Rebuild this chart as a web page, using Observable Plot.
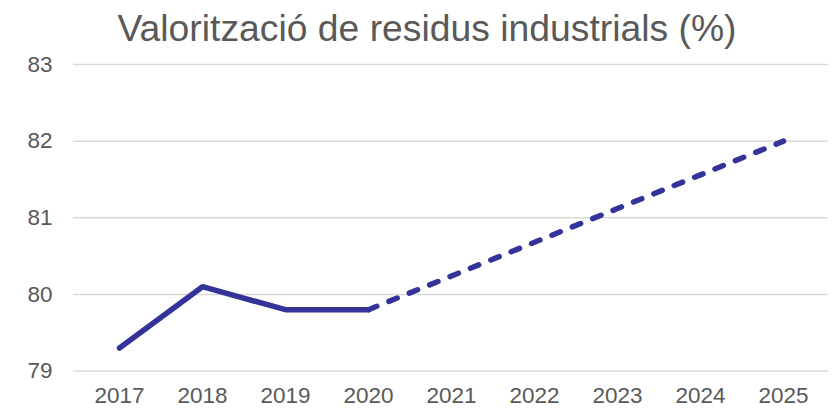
<!DOCTYPE html>
<html>
<head>
<meta charset="utf-8">
<script src="https://cdn.jsdelivr.net/npm/d3@7"></script>
<script src="https://cdn.jsdelivr.net/npm/@observablehq/plot@0.6"></script>
<style>
  html, body { margin: 0; padding: 0; background: #fff; }
  #title { height: 42px; padding-top: 10px; margin: 0; font-family: "Liberation Sans", Arial, sans-serif; font-size: 37.3px; font-weight: normal; color: #595959; text-align: center; line-height: 1; padding-left: 16px; white-space: nowrap; }
  svg { display: block; }
</style>
</head>
<body>
<div id="title">Valorització de residus industrials (%)</div>
<div id="chart"></div>
<script>
const years = ["2017", "2018", "2019", "2020", "2021", "2022", "2023", "2024", "2025"];
const actualYears = ["2017", "2018", "2019", "2020"];
const actualValues = [79.3, 80.1, 79.8, 79.8];
const projYears = ["2020", "2021", "2022", "2023", "2024", "2025"];
const projValues = [79.8, 80.24, 80.68, 81.12, 81.56, 82.0];
const yTicks = [79, 80, 81, 82, 83];

const actual = actualYears.map((y, i) => ({year: y, value: actualValues[i]}));
const proj = projYears.map((y, i) => ({year: y, value: projValues[i]}));

const chart = Plot.plot({
  width: 838,
  height: 357,
  marginTop: 12,
  marginBottom: 38.5,
  marginLeft: 73,
  marginRight: 10,
  style: { fontFamily: "'Liberation Sans', Arial, sans-serif", fontSize: "22.5px", color: "#595959", background: "#fff" },
  x: { type: "point", domain: years, padding: 0.5, label: null, tickSize: 0, tickPadding: 16 },
  y: { domain: [79, 83], ticks: yTicks, tickFormat: "d", label: null, tickSize: 0, tickPadding: 21 },
  marks: [
    Plot.ruleY(yTicks, { stroke: "#d9d9d9", strokeWidth: 1.5 }),
    Plot.line(proj, { x: "year", y: "value", stroke: "#333399", strokeWidth: 5.5, strokeDasharray: "9,13", strokeLinecap: "round" }),
    Plot.line(actual, { x: "year", y: "value", stroke: "#333399", strokeWidth: 5.5, strokeLinecap: "round", strokeLinejoin: "round" })
  ]
});
document.getElementById("chart").appendChild(chart);
</script>
</body>
</html>
